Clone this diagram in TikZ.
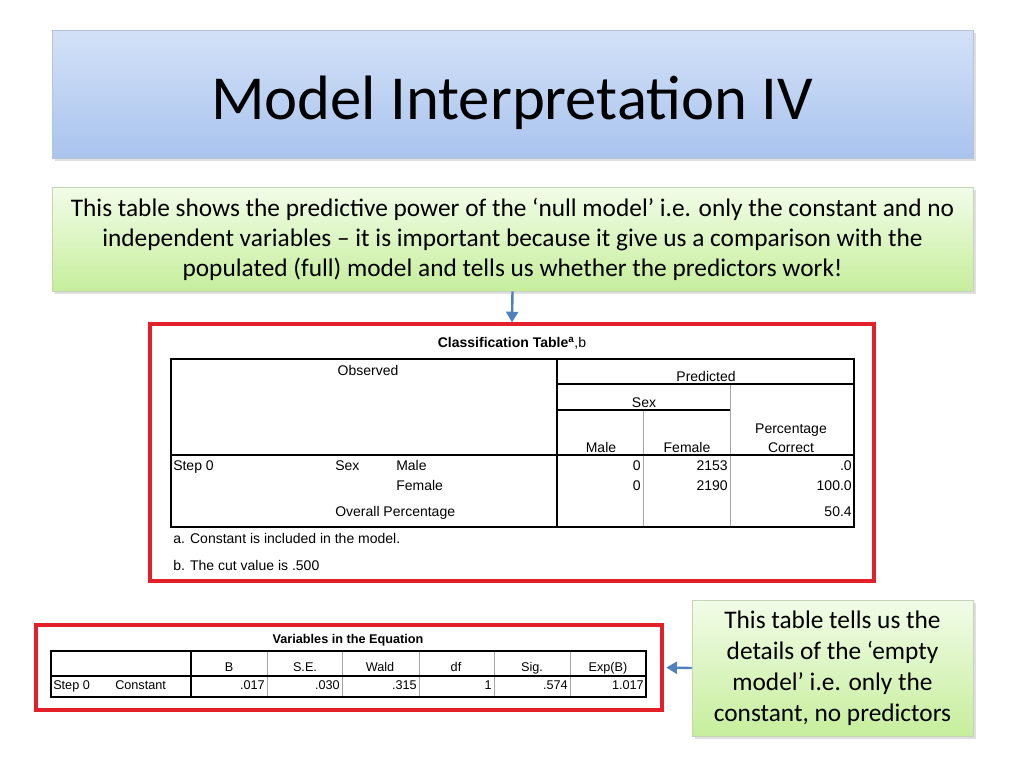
\documentclass[tikz,border=0pt]{standalone}
\usepackage{fontspec}
\setmainfont{Carlito}
\newfontfamily\spss{Liberation Sans}
\usetikzlibrary{positioning,shadows,arrows.meta}
\definecolor{titletop}{HTML}{D3E1F7}
\definecolor{titlebot}{HTML}{A9C4EE}
\definecolor{notetop}{HTML}{F2FCE8}
\definecolor{notebot}{HTML}{C6EE9C}
\definecolor{arrowblue}{HTML}{4F81BD}
\definecolor{boxred}{HTML}{E3202A}
\tikzset{
  titlebox/.style={draw=titlebot!80!black!60, top color=titletop, bottom color=titlebot, drop shadow={opacity=0.25}},
  notebox/.style={draw=notebot!70!black!50, top color=notetop, bottom color=notebot, drop shadow={opacity=0.25}, align=center, font=\fontsize{19}{22.5}\selectfont},
  redbox/.style={draw=boxred, line width=2.4pt},
  cell/.style={font=\spss\fontsize{10.5}{12}\selectfont, inner sep=0pt, text height=10pt, text depth=2pt},
  small/.style={font=\spss\fontsize{9.5}{11}\selectfont, inner sep=0pt, text height=9pt, text depth=2pt},
  grid line/.style={gray!70, line width=0.6pt},
  link/.style={-{Triangle[length=8pt,width=9pt]}, arrowblue, line width=1.8pt}
}
\begin{document}
\begin{tikzpicture}[x=0.75pt,y=-0.75pt]
  \fill[white] (0,0) rectangle (1024,768);

  % title and notes
  \node[titlebox, minimum width=690.75pt, minimum height=96pt] (title) at (512.5,94) {};
  \node[font=\fontsize{47}{52}\selectfont] at (512,103) {Model Interpretation IV};
  \node[notebox, minimum width=690.75pt, minimum height=78pt] (note) at (512.5,239)
    {This table shows the predictive power of the ‘null model’ i.e. only the constant and no\\
     independent variables – it is important because it give us a comparison with the\\
     populated (full) model and tells us whether the predictors work!};
  \node[notebox, font=\fontsize{19}{23.25}\selectfont, minimum width=210.75pt, minimum height=102pt] (empty) at (832.5,668)
    {This table tells us the\\ details of the ‘empty\\ model’ i.e. only the\\ constant, no predictors};

  % red frames
  \node[redbox, minimum width=543pt, minimum height=192.75pt] (classbox) at (512,452.5) {};
  \node[redbox, minimum width=469.5pt, minimum height=63.75pt] (varbox) at (349,667.5) {};
  \draw[link] (note.south) -- (classbox.north);
  \draw[link] (empty.west) -- ([xshift=2pt]varbox.east);

  % classification table
  \node[cell] at (512,342) {\textbf{Classification Table}\textsuperscript{\textbf{a}},b};
  \draw[grid line] (643,410) -- (643,527);
  \draw[grid line] (730,384) -- (730,527);
  \draw[line width=0.9pt] (557,359) -- (557,527);
  \draw[line width=0.9pt] (557,384) -- (854,384);
  \draw[line width=0.9pt] (557,410) -- (730,410);
  \draw[line width=1.4pt] (171,455) -- (854,455);
  \draw[line width=1.1pt] (171,359) rectangle (854,527);
  \node[cell] at (368,370) {Observed};
  \node[cell] at (706,376) {Predicted};
  \node[cell] at (644,402) {Sex};
  \node[cell] at (791,428) {Percentage};
  \node[cell] at (791,447) {Correct};
  \node[cell] at (601,447) {Male};
  \node[cell] at (687,447) {Female};
  \node[cell, anchor=west] at (173,465) {Step 0};
  \node[cell, anchor=west] at (335,465) {Sex};
  \node[cell, anchor=west] at (396,465) {Male};
  \node[cell, anchor=west] at (396,485) {Female};
  \node[cell, anchor=west] at (335,511) {Overall Percentage};
  \node[cell, anchor=east] at (641,465) {0};
  \node[cell, anchor=east] at (728,465) {2153};
  \node[cell, anchor=east] at (852,465) {.0};
  \node[cell, anchor=east] at (641,485) {0};
  \node[cell, anchor=east] at (728,485) {2190};
  \node[cell, anchor=east] at (852,485) {100.0};
  \node[cell, anchor=east] at (852,511) {50.4};
  \node[cell, anchor=west] at (173,538) {a. Constant is included in the model.};
  \node[cell, anchor=west] at (173,565) {b. The cut value is .500};

  % variables in the equation
  \node[small, font=\spss\bfseries\fontsize{9.5}{11}\selectfont] at (348,639) {Variables in the Equation};
  \foreach \x in {267,342,419,494,570} \draw[grid line] (\x,651) -- (\x,697);
  \draw[line width=1.1pt] (191,651) -- (191,697);
  \draw[line width=1.1pt] (51,676) -- (646,676);
  \draw[line width=1.1pt] (51,651) rectangle (646,697);
  \foreach \x/\t in {229/B,305/S.E.,380/Wald,456/df,532/Sig.,608/Exp(B)}
    \node[small] at (\x,667) {\t};
  \node[small, anchor=west] at (53,685) {Step 0};
  \node[small, anchor=west] at (115,685) {Constant};
  \foreach \x/\t in {265/.017,340/.030,417/.315,492/1,568/.574,644/1.017}
    \node[small, anchor=east] at (\x,685) {\t};
\end{tikzpicture}
\end{document}
